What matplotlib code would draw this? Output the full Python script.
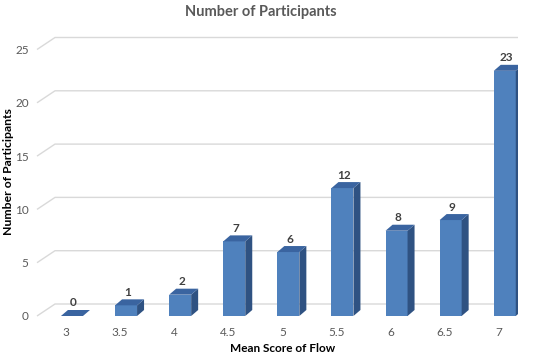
import matplotlib
matplotlib.use('Agg')
import matplotlib.pyplot as plt
from matplotlib.patches import Polygon
import numpy as np

categories = ['3', '3.5', '4', '4.5', '5', '5.5', '6', '6.5', '7']
participants = [0, 1, 2, 7, 6, 12, 8, 9, 23]
y_ticks = [0, 5, 10, 15, 20, 25]

plt.rcParams['font.family'] = ['Lato', 'DejaVu Sans']

W, H = 550, 358
fig = plt.figure(figsize=(W / 100, H / 100), dpi=100)
fig.patch.set_facecolor('white')

PX_X = 54.1      # pixels per category step
PX_Y = 10.66     # pixels per value unit
left_px, right_px, base_px = 37, 518, 316
x0_px = 66
xmin = (left_px - x0_px) / PX_X
xmax = (right_px - x0_px) / PX_X
ax = fig.add_axes([left_px / W, (H - base_px) / H, (right_px - left_px) / W, 25 * PX_Y / H])
ax.set_xlim(xmin, xmax)
ax.set_ylim(0, 25)
for s in ax.spines.values():
    s.set_visible(False)
ax.set_facecolor('none')

# back wall gridlines with slanted side-wall segment
wdx, wdy = 18 / PX_X, 12 / PX_Y
for v in y_ticks:
    ax.plot([xmin, xmin + wdx, xmax], [v, v + wdy, v + wdy], color='#d9d9d9',
            lw=1, clip_on=False, zorder=0, solid_capstyle='butt')

front_c = '#4f81bd'
side_c = '#2f5282'
top_c = '#3a64a0'
x = np.arange(len(categories))
bar_off = 0.11
bw = 22 / PX_X
ddx, ddy = 7 / PX_X, 6 / PX_Y
bars = ax.bar(x + bar_off, participants, width=bw, color=front_c, zorder=3, linewidth=0)
for xi, v in zip(x, participants):
    xl = xi + bar_off - bw / 2
    xr = xi + bar_off + bw / 2
    side = Polygon([(xr, 0), (xr + ddx, ddy), (xr + ddx, v + ddy), (xr, v)],
                   closed=True, facecolor=side_c, edgecolor='none', zorder=3)
    top = Polygon([(xl, v), (xr, v), (xr + ddx, v + ddy), (xl + ddx, v + ddy)],
                  closed=True, facecolor=top_c, edgecolor='none', zorder=4)
    ax.add_patch(side)
    ax.add_patch(top)
    ax.annotate(str(v), xy=(xi + bar_off, v), xytext=(1.5 * 0.72, 13 * 0.72),
                textcoords='offset points', ha='center', va='center',
                fontsize=8.5, fontweight='bold', color='#404040', zorder=5)

ax.set_xticks(x, categories)
ax.set_yticks(y_ticks)
ax.tick_params(axis='both', length=0, labelsize=8.5, labelcolor='#595959')
ax.tick_params(axis='x', pad=8)
ax.tick_params(axis='y', pad=6)

fig.text(261 / W, 1 - 12 / H, 'Number of Participants', ha='center', va='center',
         fontsize=10.5, fontweight='bold', color='#595959')
fig.text(283 / W, 1 - 348 / H, 'Mean Score of Flow', ha='center', va='center',
         fontsize=8.5, fontweight='bold', color='black')
fig.text(8.5 / W, 1 - 172 / H, 'Number of Participants', ha='center', va='center',
         rotation=90, fontsize=8.8, fontweight='bold', color='black')

fig.savefig('out.png', dpi=100)
